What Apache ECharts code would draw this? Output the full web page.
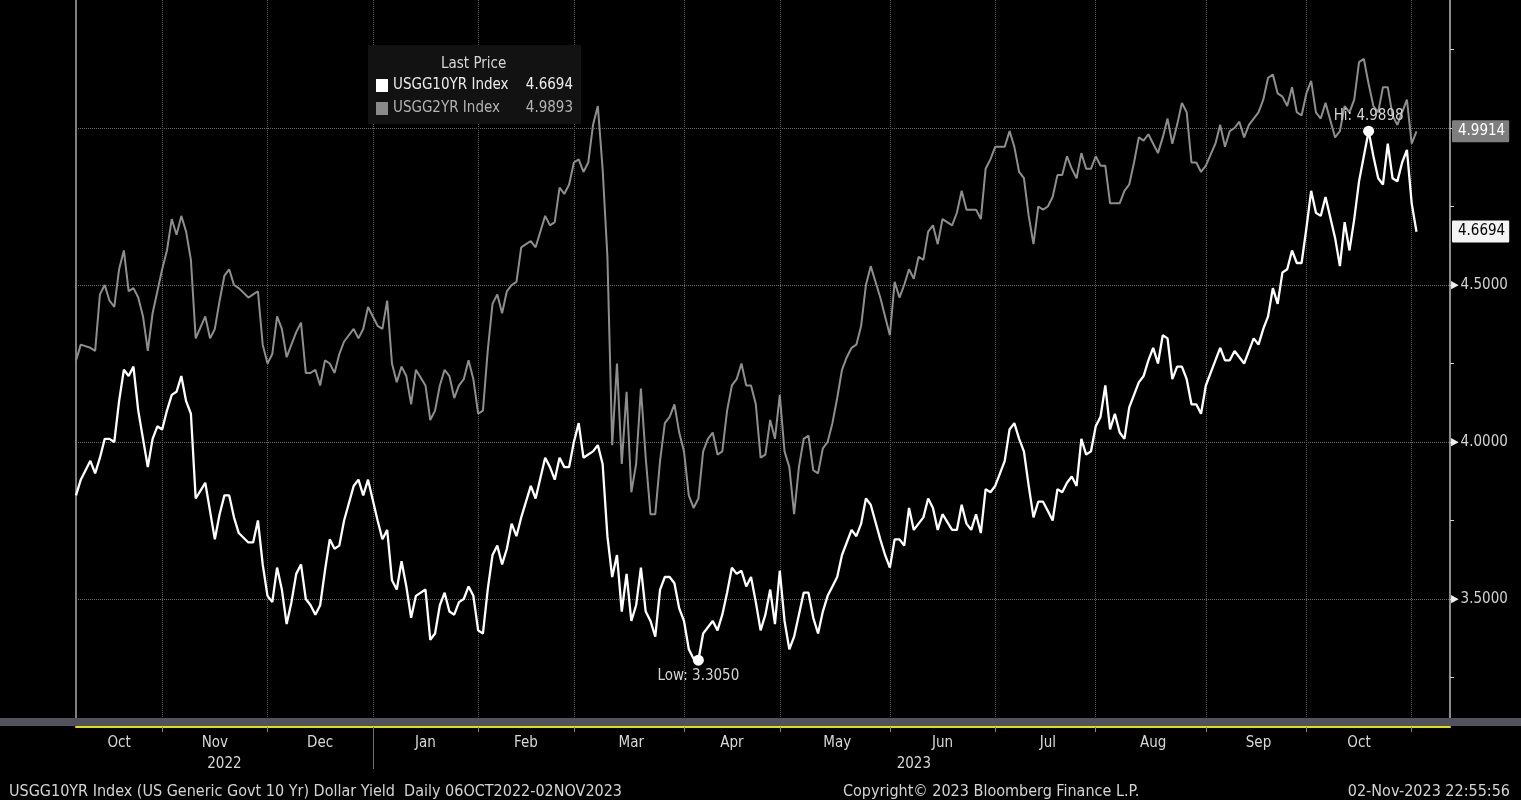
<!DOCTYPE html>
<html>
<head>
<meta charset="utf-8">
<script src="https://cdn.jsdelivr.net/npm/echarts@6/dist/echarts.min.js"></script>
<style>
html,body{margin:0;padding:0;background:#000;}
#chart{width:1521px;height:800px;}
</style>
</head>
<body>
<div id="chart"></div>
<script>
// ---------- data ----------
const axisStart = '2022-10-06';
const dataEnd = '2023-11-02';
const axisEnd = '2023-11-13';
const holidays = ['2022-10-10','2022-11-11','2022-11-24','2022-12-26','2023-01-02','2023-01-16',
  '2023-02-20','2023-05-29','2023-06-19','2023-07-04','2023-09-04','2023-10-09'];
const monthNames = ['Jan','Feb','Mar','Apr','May','Jun','Jul','Aug','Sep','Oct','Nov','Dec'];

const seriesNames = ['USGG10YR Index', 'USGG2YR Index'];
const lastPrices = ['4.6694', '4.9893'];
const tagPrices = [4.6694, 4.9914];

// USGG10YR, one value per trading day
const us10y = [
  // Oct 2022
  3.83,3.88,3.94,3.90,3.95,4.01,4.01,4.00,4.13,4.23,4.21,4.24,4.10,4.01,3.92,4.01,4.05,
  // Nov
  4.04,4.10,4.15,4.16,4.21,4.13,4.09,3.82,3.87,3.78,3.69,3.77,3.83,3.83,3.76,3.71,3.68,3.68,3.75,3.61,
  // Dec
  3.51,3.49,3.60,3.53,3.42,3.49,3.58,3.61,3.50,3.48,3.45,3.48,3.59,3.69,3.66,3.67,3.75,3.86,3.88,3.83,3.88,
  // Jan 2023
  3.75,3.69,3.72,3.56,3.53,3.62,3.54,3.44,3.51,3.53,3.37,3.39,3.48,3.52,3.46,3.45,3.49,3.50,3.54,3.51,
  // Feb
  3.40,3.39,3.53,3.64,3.67,3.61,3.66,3.74,3.70,3.76,3.81,3.86,3.82,3.95,3.92,3.88,3.95,3.92,3.92,
  // Mar
  4.00,4.06,3.95,3.96,3.97,3.99,3.93,3.70,3.57,3.64,3.46,3.58,3.43,3.48,3.60,3.46,3.43,3.38,3.53,3.57,3.57,3.55,3.47,
  // Apr
  3.43,3.34,3.31,3.305,3.39,3.41,3.43,3.40,3.45,3.52,3.60,3.58,3.59,3.54,3.57,3.49,3.40,3.45,3.53,3.42,
  // May
  3.59,3.43,3.34,3.38,3.45,3.52,3.52,3.44,3.39,3.46,3.51,3.54,3.57,3.64,3.68,3.72,3.70,3.74,3.82,3.80,3.69,3.64,
  // Jun
  3.60,3.69,3.69,3.67,3.79,3.72,3.74,3.76,3.82,3.79,3.72,3.77,3.72,3.72,3.80,3.74,3.72,3.77,3.71,3.85,3.84,
  // Jul
  3.86,3.94,4.04,4.06,4.01,3.97,3.86,3.76,3.81,3.81,3.78,3.75,3.85,3.84,3.87,3.89,3.86,4.01,3.96,3.97,
  // Aug
  4.05,4.08,4.18,4.04,4.09,4.03,4.01,4.11,4.15,4.19,4.21,4.26,4.30,4.25,4.34,4.33,4.20,4.24,4.24,4.20,4.12,4.12,4.09,
  // Sep
  4.18,4.26,4.30,4.26,4.26,4.29,4.27,4.25,4.29,4.33,4.31,4.36,4.40,4.49,4.44,4.54,4.55,4.61,4.57,4.57,
  // Oct
  4.68,4.80,4.73,4.72,4.78,4.65,4.56,4.70,4.61,4.71,4.83,4.91,4.9898,4.91,4.84,4.82,4.95,4.84,4.83,4.89,4.93,
  // Nov
  4.76,4.6694
];

// USGG2YR, one value per trading day
const us2y = [
  // Oct 2022
  4.26,4.31,4.30,4.29,4.47,4.50,4.45,4.43,4.55,4.61,4.48,4.49,4.46,4.40,4.29,4.41,4.48,
  // Nov
  4.55,4.61,4.71,4.66,4.72,4.67,4.58,4.33,4.40,4.33,4.36,4.45,4.53,4.55,4.50,4.49,4.46,4.47,4.48,4.31,
  // Dec
  4.25,4.28,4.40,4.36,4.27,4.31,4.35,4.38,4.22,4.22,4.23,4.18,4.26,4.25,4.22,4.28,4.32,4.36,4.33,4.36,4.43,
  // Jan 2023
  4.37,4.36,4.45,4.25,4.19,4.24,4.21,4.12,4.23,4.18,4.07,4.10,4.18,4.23,4.21,4.14,4.18,4.20,4.26,4.20,
  // Feb
  4.09,4.10,4.29,4.44,4.47,4.41,4.48,4.50,4.51,4.62,4.63,4.64,4.62,4.72,4.69,4.70,4.81,4.79,4.82,
  // Mar
  4.89,4.90,4.86,4.89,5.01,5.07,4.87,4.59,3.99,4.25,3.93,4.16,3.84,3.93,4.17,3.95,3.77,3.77,3.94,4.06,4.08,4.12,4.03,
  // Apr
  3.97,3.83,3.79,3.82,3.97,4.01,4.03,3.96,3.97,4.10,4.18,4.20,4.25,4.18,4.18,4.12,3.95,3.96,4.07,4.01,
  // May
  4.15,3.97,3.92,3.77,3.92,4.01,4.02,3.91,3.90,3.98,4.00,4.06,4.14,4.23,4.27,4.30,4.31,4.37,4.50,4.56,4.46,4.40,
  // Jun
  4.34,4.51,4.46,4.50,4.55,4.52,4.59,4.58,4.67,4.69,4.63,4.71,4.69,4.73,4.80,4.74,4.74,4.74,4.71,4.87,4.90,
  // Jul
  4.94,4.94,4.99,4.94,4.86,4.84,4.72,4.63,4.75,4.74,4.75,4.78,4.85,4.85,4.91,4.87,4.84,4.92,4.87,4.87,
  // Aug
  4.91,4.88,4.88,4.76,4.76,4.76,4.80,4.82,4.89,4.97,4.96,4.98,4.95,4.92,4.97,5.03,4.95,5.01,5.08,5.05,4.89,4.89,4.86,
  // Sep
  4.88,4.95,5.01,4.94,4.99,5.00,5.02,4.97,5.01,5.03,5.05,5.09,5.16,5.17,5.11,5.10,5.07,5.13,5.05,5.04,
  // Oct
  5.11,5.15,5.05,5.03,5.08,4.97,4.99,5.07,5.05,5.09,5.21,5.22,5.14,5.07,5.05,5.13,5.13,5.04,5.01,5.05,5.09,
  // Nov
  4.95,4.9893
];

const yMin = 3.121, yMax = 5.4076;
const yMinorTicks = [3.25,3.5,3.75,4.0,4.25,4.5,4.75,5.0,5.25];
const yLabelValues = [3.5,4.0,4.5];
const yGridValues = [3.5,4.0,4.5,5.0];

const footerLeft = 'USGG10YR Index (US Generic Govt 10 Yr) Dollar Yield  Daily 06OCT2022-02NOV2023';
const footerMid = 'Copyright\u00A9 2023 Bloomberg Finance L.P.';
const footerRight = '02-Nov-2023 22:55:56';

// ---------- helpers ----------
function ymd(d){ return d.toISOString().slice(0,10); }
function weekdays(from, to, skip){
  const out = [];
  const d = new Date(from + 'T00:00:00Z');
  const end = new Date(to + 'T00:00:00Z');
  while (d <= end) {
    const w = d.getUTCDay();
    const s = ymd(d);
    if (w !== 0 && w !== 6 && !(skip && skip.includes(s))) out.push(s);
    d.setUTCDate(d.getUTCDate() + 1);
  }
  return out;
}
const axisDates = weekdays(axisStart, axisEnd);
const tradeDates = weekdays(axisStart, dataEnd, holidays);
if (tradeDates.length !== us10y.length || tradeDates.length !== us2y.length) {
  console.error('length mismatch', tradeDates.length, us10y.length, us2y.length);
}

const monthStarts = [];
for (let i = 1; i < axisDates.length; i++) {
  if (axisDates[i].slice(0,7) !== axisDates[i-1].slice(0,7)) monthStarts.push(i);
}
const monthStartSet = new Set(monthStarts);
const labelIdx = new Set();
const bounds = [0].concat(monthStarts);
for (let k = 0; k < bounds.length - 1; k++) labelIdx.add(Math.round((bounds[k] + bounds[k+1]) / 2));

const yearStarts = [];
for (let i = 1; i < axisDates.length; i++) {
  if (axisDates[i].slice(0,4) !== axisDates[i-1].slice(0,4)) yearStarts.push(i);
}
const yearSepSet = new Set(yearStarts);
const yb = [0].concat(yearStarts, [axisDates.length - 1]);
const yearLabelIdx = new Set();
for (let k = 0; k < yb.length - 1; k++) yearLabelIdx.add(Math.round((yb[k] + yb[k+1]) / 2));

const d10 = tradeDates.map((d, i) => [d, us10y[i]]);
const d2 = tradeDates.map((d, i) => [d, us2y[i]]);

let hiI = 0, loI = 0;
us10y.forEach((v, i) => { if (v > us10y[hiI]) hiI = i; if (v < us10y[loI]) loI = i; });

const FONT = "'Liberation Sans Narrow', 'DejaVu Sans Condensed', 'Arial Narrow', sans-serif";

function tagLine(value, fg, bg) {
  return {
    silent: true, symbol: ['none', 'none'],
    lineStyle: {color: 'rgba(0,0,0,0)', width: 0, opacity: 1},
    data: [{yAxis: value}],
    label: {show: true, position: 'end', distance: 2, opacity: 1, formatter: value.toFixed(4),
      color: fg, backgroundColor: bg, padding: [4, 4, 3, 6], borderRadius: 1,
      fontSize: 15, fontFamily: FONT}
  };
}

// ---------- chart ----------
const chart = echarts.init(document.getElementById('chart'), null, {renderer: 'canvas'});
chart.setOption({
  backgroundColor: '#000',
  animation: false,
  textStyle: {fontFamily: FONT},
  grid: {left: 76, right: 71, top: 0, bottom: 82, containLabel: false, outerBoundsMode: 'none'},
  title: [
    {text: 'Last Price', left: 436, top: 52, textStyle: {color: '#d6d6d6', fontSize: 15, fontWeight: 'normal', fontFamily: FONT}},
    {text: footerLeft, left: 4, top: 779, textStyle: {color: '#d4d4d4', fontSize: 16, fontWeight: 'normal', fontFamily: FONT}},
    {text: footerMid, left: 838, top: 779, textStyle: {color: '#d4d4d4', fontSize: 16, fontWeight: 'normal', fontFamily: FONT}},
    {text: footerRight, right: 6, top: 779, textStyle: {color: '#d4d4d4', fontSize: 16, fontWeight: 'normal', fontFamily: FONT}}
  ],
  legend: {
    left: 368, top: 45, orient: 'vertical',
    padding: [33, 8, 8, 8], itemGap: 8,
    backgroundColor: '#121212',
    icon: 'rect', itemWidth: 12, itemHeight: 13,
    selectedMode: false,
    data: [
      {name: seriesNames[0], textStyle: {color: '#ececec'}},
      {name: seriesNames[1], textStyle: {color: '#b4b4b4'}}
    ],
    formatter: name => '{n|' + name + '}{v|' + lastPrices[seriesNames.indexOf(name)] + '}',
    textStyle: {
      fontFamily: FONT, fontSize: 15,
      rich: {
        n: {width: 122, fontSize: 15, fontFamily: FONT},
        v: {width: 58, align: 'right', fontSize: 15, fontFamily: FONT}
      }
    }
  },
  graphic: [
    {type: 'rect', left: 0, top: 718, shape: {width: 1521, height: 8}, style: {fill: '#52525f'}, silent: true, z: 1}
  ],
  xAxis: [
    {
      type: 'category', data: axisDates, boundaryGap: false, position: 'bottom', offset: 9,
      axisLine: {show: true, lineStyle: {color: '#e2e200', width: 2}},
      axisTick: {show: true, length: 5, interval: (i) => monthStartSet.has(i), lineStyle: {color: '#8d8d55'}},
      axisLabel: {
        show: true, interval: (i) => labelIdx.has(i), margin: 9,
        color: '#d8d8d8', fontSize: 15, fontFamily: FONT,
        formatter: v => monthNames[+v.slice(5,7) - 1]
      },
      splitLine: {show: true, interval: (i) => monthStartSet.has(i), lineStyle: {color: '#5e5e5e', type: 'dotted', width: 1}}
    },
    {
      type: 'category', data: axisDates, boundaryGap: false, position: 'bottom', offset: 9,
      axisLine: {show: false},
      axisTick: {show: true, length: 42, interval: (i) => yearSepSet.has(i), lineStyle: {color: '#707070'}},
      axisLabel: {
        show: true, interval: (i) => yearLabelIdx.has(i), margin: 30,
        color: '#d8d8d8', fontSize: 15, fontFamily: FONT,
        formatter: v => v.slice(0,4)
      },
      splitLine: {show: false}
    }
  ],
  yAxis: [
    {
      type: 'value', position: 'right', min: yMin, max: yMax,
      axisLine: {show: true, lineStyle: {color: '#8c8c8c', width: 2}},
      axisTick: {show: true, length: 4, customValues: yMinorTicks, lineStyle: {color: '#cfcfcf'}},
      axisLabel: {
        show: true, customValues: yLabelValues, margin: 1,
        formatter: v => '{t|\u25B6}{v|' + Number(v).toFixed(4) + '}',
        rich: {
          t: {fontSize: 11, color: '#f0f0f0', padding: [0, 2, 0, 0]},
          v: {fontSize: 15, color: '#d2d2d2', fontFamily: FONT}
        }
      },
      splitLine: {show: false}
    },
    {
      type: 'value', position: 'left', min: yMin, max: yMax,
      axisLine: {show: true, lineStyle: {color: '#7e7e7e', width: 2}},
      axisTick: {show: false, customValues: yGridValues},
      axisLabel: {show: false},
      splitLine: {show: true, lineStyle: {color: '#6a6a6a', type: 'dotted', width: 1}}
    }
  ],
  series: [
    {
      name: seriesNames[0], type: 'line', data: d10, xAxisIndex: 0, yAxisIndex: 0,
      showSymbol: false, symbol: 'none', z: 4,
      color: '#ffffff',
      lineStyle: {color: '#ffffff', width: 2.3},
      markPoint: {
        silent: true, symbol: 'circle', symbolSize: 11,
        itemStyle: {color: '#ffffff'},
        data: [
          {coord: [tradeDates[hiI], us10y[hiI]], value: us10y[hiI],
           label: {show: true, position: 'top', distance: 2, formatter: 'Hi: ' + us10y[hiI].toFixed(4), color: '#d4d4d4', fontSize: 15, fontFamily: FONT}},
          {coord: [tradeDates[loI], us10y[loI]], value: us10y[loI],
           label: {show: true, position: 'bottom', distance: 3, formatter: 'Low: ' + us10y[loI].toFixed(4), color: '#d4d4d4', fontSize: 15, fontFamily: FONT}}
        ]
      },
      markLine: tagLine(tagPrices[0], '#000000', '#f4f4f4')
    },
    {
      name: seriesNames[1], type: 'line', data: d2, xAxisIndex: 0, yAxisIndex: 0,
      showSymbol: false, symbol: 'none', z: 3,
      color: '#8a8a8a',
      lineStyle: {color: '#8e8e8e', width: 2},
      markLine: tagLine(tagPrices[1], '#ffffff', '#7e7e7e')
    }
  ]
});
</script>
</body>
</html>
